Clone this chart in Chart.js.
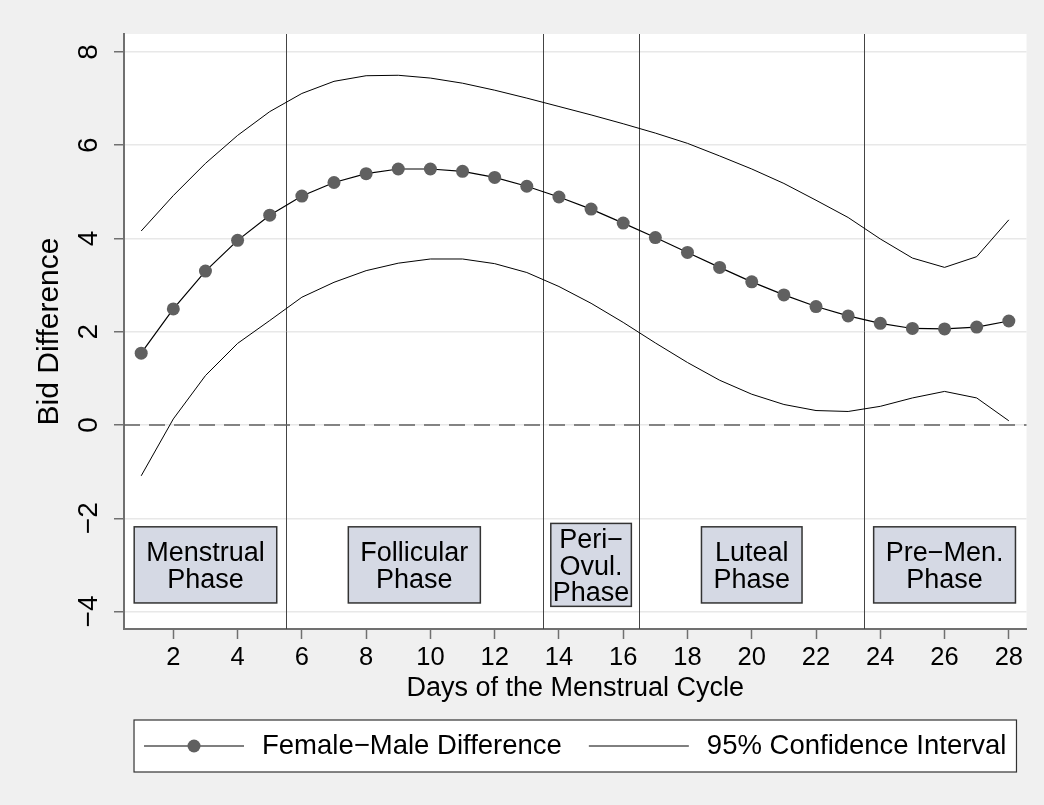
<html>
<head>
<script src="https://cdn.jsdelivr.net/npm/chart.js@4.4.0/dist/chart.umd.min.js"></script>
<style>
  body { margin: 0; background: #f0f0f0; }
  #container { width: 1044px; height: 805px; }
</style>
</head>
<body>
<div id="container"><canvas id="myChart"></canvas></div>
<script>
// days of the cycle and the three series
var days = [1, 2, 3, 4, 5, 6, 7, 8, 9, 10, 11, 12, 13, 14, 15, 16, 17, 18, 19, 20, 21, 22, 23, 24, 25, 26, 27, 28];
var meanDiff = [1.54, 2.49, 3.30, 3.96, 4.50, 4.91, 5.20, 5.39, 5.49, 5.49, 5.44, 5.31, 5.12, 4.89,
                4.63, 4.33, 4.02, 3.70, 3.38, 3.07, 2.79, 2.54, 2.34, 2.18, 2.07, 2.06, 2.10, 2.23];
var upperCI = [4.16, 4.92, 5.61, 6.21, 6.72, 7.11, 7.37, 7.49, 7.50, 7.44, 7.33, 7.18, 7.01, 6.83,
               6.65, 6.46, 6.26, 6.04, 5.77, 5.49, 5.18, 4.82, 4.45, 3.99, 3.58, 3.38, 3.61, 4.40];
var lowerCI = [-1.09, 0.13, 1.06, 1.75, 2.24, 2.74, 3.06, 3.31, 3.47, 3.56, 3.56, 3.46, 3.27, 2.97,
               2.61, 2.20, 1.76, 1.34, 0.96, 0.66, 0.44, 0.31, 0.29, 0.40, 0.58, 0.72, 0.58, 0.09];

var xTicks = [2, 4, 6, 8, 10, 12, 14, 16, 18, 20, 22, 24, 26, 28];
var yTicks = [-4, -2, 0, 2, 4, 6, 8];

// phase boundaries and the labels placed inside each phase
var phaseBreaks = [5.5, 13.5, 16.5, 23.5];
var phaseLabels = ['Menstrual\nPhase', 'Follicular\nPhase', 'Peri\u2212\nOvul.\nPhase', 'Luteal\nPhase', 'Pre\u2212Men.\nPhase'];
var phaseCenters = [3, 9.5, 15, 20, 26];
var phaseLabelY = -3;

var FONT = '"Liberation Sans", Arial, Helvetica, sans-serif';

function points(ys) {
  return days.map(function(d, i) { return {x: d, y: ys[i]}; });
}

var decor = {
  id: 'decor',
  beforeDraw: function(chart) {
    var ctx = chart.ctx, a = chart.chartArea;
    ctx.save();
    ctx.fillStyle = '#f0f0f0';
    ctx.fillRect(0, 0, chart.width, chart.height);
    ctx.fillStyle = '#ffffff';
    ctx.fillRect(a.left, a.top, a.right - a.left, a.bottom - a.top);
    ctx.restore();
  },
  beforeDatasetsDraw: function(chart) {
    var ctx = chart.ctx, a = chart.chartArea, x = chart.scales.x, y = chart.scales.y;
    ctx.save();
    // phase separators
    ctx.strokeStyle = '#444444';
    ctx.lineWidth = 1;
    phaseBreaks.forEach(function(d) {
      var px = Math.round(x.getPixelForValue(d)) + 0.5;
      ctx.beginPath();
      ctx.moveTo(px, a.top);
      ctx.lineTo(px, a.bottom);
      ctx.stroke();
    });
    // zero reference line
    ctx.strokeStyle = '#606060';
    ctx.lineWidth = 1.5;
    ctx.setLineDash([16, 9]);
    var py = y.getPixelForValue(0);
    ctx.beginPath();
    ctx.moveTo(a.left, py);
    ctx.lineTo(a.right, py);
    ctx.stroke();
    ctx.restore();
  },
  afterDatasetsDraw: function(chart) {
    var ctx = chart.ctx, x = chart.scales.x, y = chart.scales.y;
    var fs = 27, lh = 26.8, cap = 0.716 * fs;
    ctx.save();
    ctx.font = fs + 'px ' + FONT;
    phaseLabels.forEach(function(txt, i) {
      var lines = txt.split('\n');
      var compact = lines.length > 2;
      var hp = compact ? 2 : 12, vp = compact ? 5 : 15;
      var cx = x.getPixelForValue(phaseCenters[i]);
      var cy = y.getPixelForValue(phaseLabelY);
      var w = 0;
      lines.forEach(function(l) { w = Math.max(w, ctx.measureText(l).width); });
      w += 2 * hp;
      var first = cy - (lines.length - 1) * lh / 2 + cap / 2;
      var top = first - cap - vp;
      var bottom = first + (lines.length - 1) * lh + vp;
      ctx.fillStyle = '#d5d9e4';
      ctx.fillRect(cx - w / 2, top, w, bottom - top);
      ctx.strokeStyle = '#333333';
      ctx.lineWidth = 1.5;
      ctx.strokeRect(cx - w / 2, top, w, bottom - top);
      ctx.fillStyle = '#000000';
      ctx.textAlign = 'center';
      ctx.textBaseline = 'alphabetic';
      lines.forEach(function(l, j) { ctx.fillText(l, cx, first + j * lh); });
    });
    ctx.restore();
  },
  afterDraw: function(chart) {
    // legend box under the axis title
    var ctx = chart.ctx, a = chart.chartArea;
    var items = chart.data.datasets.filter(function(ds) { return ds.label; });
    var fs = 27.5, pad = 10, sample = 100, gap = 18, between = 27, h = 52;
    ctx.save();
    ctx.font = fs + 'px ' + FONT;
    var total = pad * 2 + between * (items.length - 1);
    items.forEach(function(ds) { total += sample + gap + ctx.measureText(ds.label).width; });
    var left = (a.left + a.right) / 2 - total / 2;
    var top = chart.scales.x.bottom + 14;
    ctx.fillStyle = '#ffffff';
    ctx.fillRect(left, top, total, h);
    ctx.strokeStyle = '#333333';
    ctx.lineWidth = 1.2;
    ctx.strokeRect(left, top, total, h);
    var cx = left + pad, cy = top + h / 2;
    items.forEach(function(ds) {
      ctx.strokeStyle = ds.borderColor;
      ctx.lineWidth = ds.borderWidth;
      ctx.beginPath();
      ctx.moveTo(cx, cy);
      ctx.lineTo(cx + sample, cy);
      ctx.stroke();
      if (ds.pointRadius > 0) {
        ctx.fillStyle = ds.pointBackgroundColor;
        ctx.beginPath();
        ctx.arc(cx + sample / 2, cy, ds.pointRadius, 0, Math.PI * 2);
        ctx.fill();
      }
      cx += sample + gap;
      ctx.fillStyle = '#000000';
      ctx.textAlign = 'left';
      ctx.textBaseline = 'middle';
      ctx.fillText(ds.label, cx, cy);
      cx += ctx.measureText(ds.label).width + between;
    });
    ctx.restore();
  }
};

function init() {
  Chart.defaults.font.family = FONT;
  Chart.defaults.color = '#000000';

  var ctx = document.getElementById('myChart').getContext('2d');
  new Chart(ctx, {
    type: 'line',
    data: {
      datasets: [{
        label: 'Female\u2212Male Difference',
        data: points(meanDiff),
        borderColor: '#000000',
        borderWidth: 1.2,
        pointRadius: 6.5,
        pointBackgroundColor: '#606060',
        pointBorderWidth: 0,
        tension: 0
      }, {
        label: '95% Confidence Interval',
        data: points(upperCI),
        borderColor: '#000000',
        borderWidth: 1,
        pointRadius: 0,
        tension: 0
      }, {
        label: '',
        data: points(lowerCI),
        borderColor: '#000000',
        borderWidth: 1,
        pointRadius: 0,
        tension: 0
      }]
    },
    options: {
      responsive: true,
      maintainAspectRatio: false,
      animation: false,
      layout: { padding: { left: 20, top: 34, right: 17.5, bottom: 99 } },
      plugins: { legend: { display: false }, tooltip: { enabled: false } },
      scales: {
        x: {
          type: 'linear',
          min: 0.465,
          max: 28.55,
          afterBuildTicks: function(s) { s.ticks = xTicks.map(function(v) { return {value: v}; }); },
          afterFit: function(s) { s.height = 77; },
          border: { color: '#707070', width: 2 },
          grid: { drawOnChartArea: false, tickLength: 10, tickColor: '#707070', tickWidth: 1.5 },
          ticks: { font: { size: 25.5 }, padding: 4, maxRotation: 0 },
          title: { display: true, text: 'Days of the Menstrual Cycle', font: { size: 27 }, padding: { top: 0, bottom: 1 } }
        },
        y: {
          type: 'linear',
          min: -4.375,
          max: 8.385,
          afterBuildTicks: function(s) { s.ticks = yTicks.map(function(v) { return {value: v}; }); },
          afterFit: function(s) { s.width = 104; },
          border: { color: '#707070', width: 2 },
          grid: { color: '#e8e8e8', lineWidth: 1.5, tickLength: 10, tickColor: '#707070', tickWidth: 1.5 },
          ticks: {
            font: { size: 28 },
            minRotation: 90,
            maxRotation: 90,
            crossAlign: 'center',
            padding: 9,
            callback: function(v) { return String(v).replace('-', '\u2212'); }
          },
          title: { display: true, text: 'Bid Difference', font: { size: 30 }, padding: { top: 12 } }
        }
      }
    },
    plugins: [decor]
  });
}
init();
</script>
</body>
</html>
